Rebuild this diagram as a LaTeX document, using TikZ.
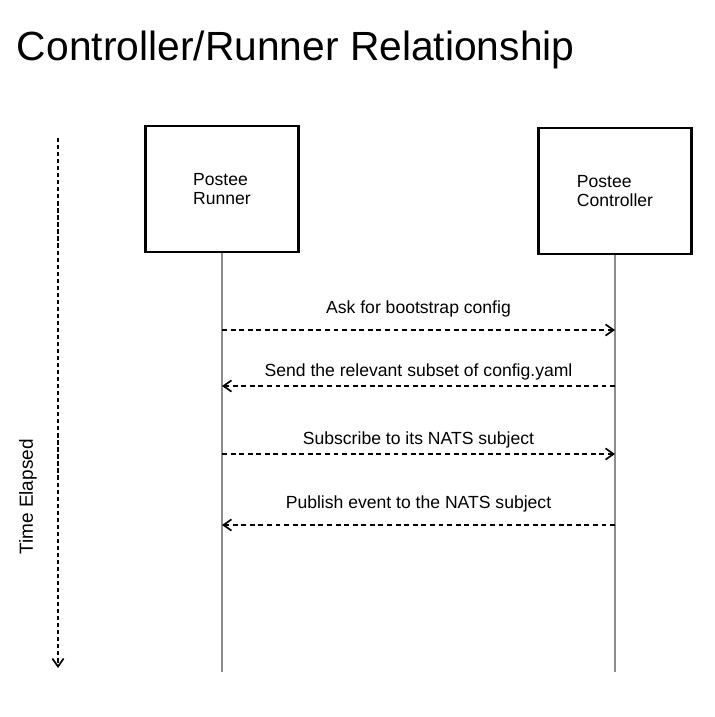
\documentclass[tikz,border=0pt]{standalone}
\usepackage{fontspec}
\setmainfont{Liberation Sans}
\usetikzlibrary{arrows.meta}
\begin{document}
\begin{tikzpicture}[x=0.025cm,y=-0.025cm]
    \tikzset{
        actor/.style={draw,line width=1.7pt,minimum width=3.82cm,minimum height=3.15cm,align=left,font=\fontsize{12.5}{13}\selectfont},
        lifeline/.style={draw=black!45,line width=0.8pt},
        msg/.style={line width=1.2pt,dash pattern=on 3.5pt off 2.6pt,-{Straight Barb[length=2mm,width=2.8mm]}},
        msgtext/.style={anchor=base,font=\fontsize{12.5}{13}\selectfont},}
    \useasboundingbox (0,0) rectangle (715,717);
    \node[anchor=base west,font=\fontsize{29}{33}\selectfont] (title) at (12,60) {Controller/Runner Relationship};
    \node[actor] (runner) at (222,189) {Postee\\Runner};
    \node[actor] (ctrl) at (615,191) {Postee\\Controller};
    % lifelines
    \coordinate (runnerend) at (runner |- 0,672);
    \coordinate (ctrlend) at (ctrl |- 0,672);
    \draw[lifeline] (runner.south) -- (runnerend);
    \draw[lifeline] (ctrl.south) -- (ctrlend);
    % messages
    \coordinate (ask1) at (runner |- 0,330);   \coordinate (ask2) at (ctrl |- 0,330);
    \coordinate (send1) at (runner |- 0,386);  \coordinate (send2) at (ctrl |- 0,386);
    \coordinate (sub1) at (runner |- 0,454);   \coordinate (sub2) at (ctrl |- 0,454);
    \coordinate (pub1) at (runner |- 0,525);   \coordinate (pub2) at (ctrl |- 0,525);
    \draw[msg] (ask1) -- node[msgtext,yshift=12pt] (asktext) {Ask for bootstrap config} (ask2);
    \draw[msg] (send2) -- node[msgtext,yshift=6.5pt] (sendtext) {Send the relevant subset of config.yaml} (send1);
    \draw[msg] (sub1) -- node[msgtext,yshift=6.5pt] (subtext) {Subscribe to its NATS subject} (sub2);
    \draw[msg] (pub2) -- node[msgtext,yshift=11.5pt] (pubtext) {Publish event to the NATS subject} (pub1);
    % time axis
    \coordinate (tstart) at (58,138);
    \coordinate (tend) at (58,668);
    \draw[msg,dash pattern=on 3pt off 2pt] (tstart) -- (tend);
    \node[rotate=90,font=\fontsize{13.5}{15}\selectfont] (time) at (28,497) {Time Elapsed};
\end{tikzpicture}
\end{document}
